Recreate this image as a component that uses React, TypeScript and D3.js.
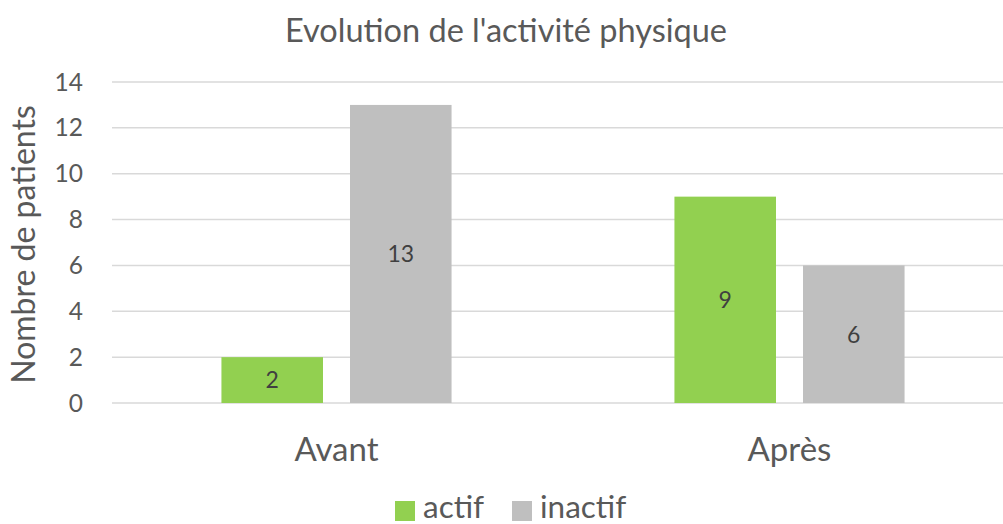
import React from 'react';
import * as d3 from 'd3';

const categories = ['Avant', 'Après'];
const series = ['actif', 'inactif'];
const actif = [2, 9];
const inactif = [13, 6];
const yTicks = [0, 2, 4, 6, 8, 10, 12, 14];
const colors = ['#92d050', '#bfbfbf'];

const W = 1003;
const H = 524;
const font = 'Lato, "Open Sans", sans-serif';
const textColor = '#595959';

export default function App() {
  const values = [actif, inactif];

  const y = d3.scaleLinear().domain([0, 14]).range([403, 82]);
  const x0 = d3.scaleBand<string>()
    .domain(categories)
    .range([110, 1016])
    .paddingInner(0.492)
    .paddingOuter(0.246);
  const x1 = d3.scaleBand<string>()
    .domain(series)
    .range([0, x0.bandwidth()])
    .paddingInner(0.21);

  return (
    <svg width={W} height={H} style={{ position: 'absolute', left: 0, top: 0 }}>
      <rect width={W} height={H} fill="#fff" />
      <text x={506} y={42} textAnchor="middle" fontFamily={font} fontSize={32.5} fill={textColor}>
        Evolution de l'activité physique
      </text>

      {yTicks.map(t => (
        <g key={t}>
          <line x1={112} x2={W} y1={y(t)} y2={y(t)} stroke="#d9d9d9" strokeWidth={1.5} />
          <text x={83} y={y(t) + 8.5} textAnchor="end" fontFamily={font} fontSize={24.5} fill={textColor}>
            {t}
          </text>
        </g>
      ))}

      <text
        transform={`translate(35,${(102 + 387) / 2}) rotate(-90)`}
        textAnchor="middle"
        fontFamily={font}
        fontSize={32}
        fill={textColor}
      >
        Nombre de patients
      </text>

      {categories.map((c, ci) => (
        <g key={c} transform={`translate(${x0(c)},0)`}>
          {series.map((s, si) => {
            const v = values[si][ci];
            const bx = x1(s)!;
            return (
              <g key={s}>
                <rect x={bx} y={y(v)} width={x1.bandwidth()} height={y(0) - y(v)} fill={colors[si]} />
                <text
                  x={bx + x1.bandwidth() / 2}
                  y={(y(v) + y(0)) / 2 + 8.3}
                  textAnchor="middle"
                  fontFamily={font}
                  fontSize={23}
                  fill="#404040"
                >
                  {v}
                </text>
              </g>
            );
          })}
          <text
            x={x0.bandwidth() / 2}
            y={461}
            textAnchor="middle"
            fontFamily={font}
            fontSize={33}
            fill={textColor}
          >
            {c}
          </text>
        </g>
      ))}

      {series.map((s, si) => {
        const lx = [395, 512][si];
        return (
          <g key={s}>
            <rect x={lx} y={501} width={20} height={20} fill={colors[si]} />
            <text x={lx + 28} y={518} fontFamily={font} fontSize={31.5} fill={textColor}>
              {s}
            </text>
          </g>
        );
      })}
    </svg>
  );
}
